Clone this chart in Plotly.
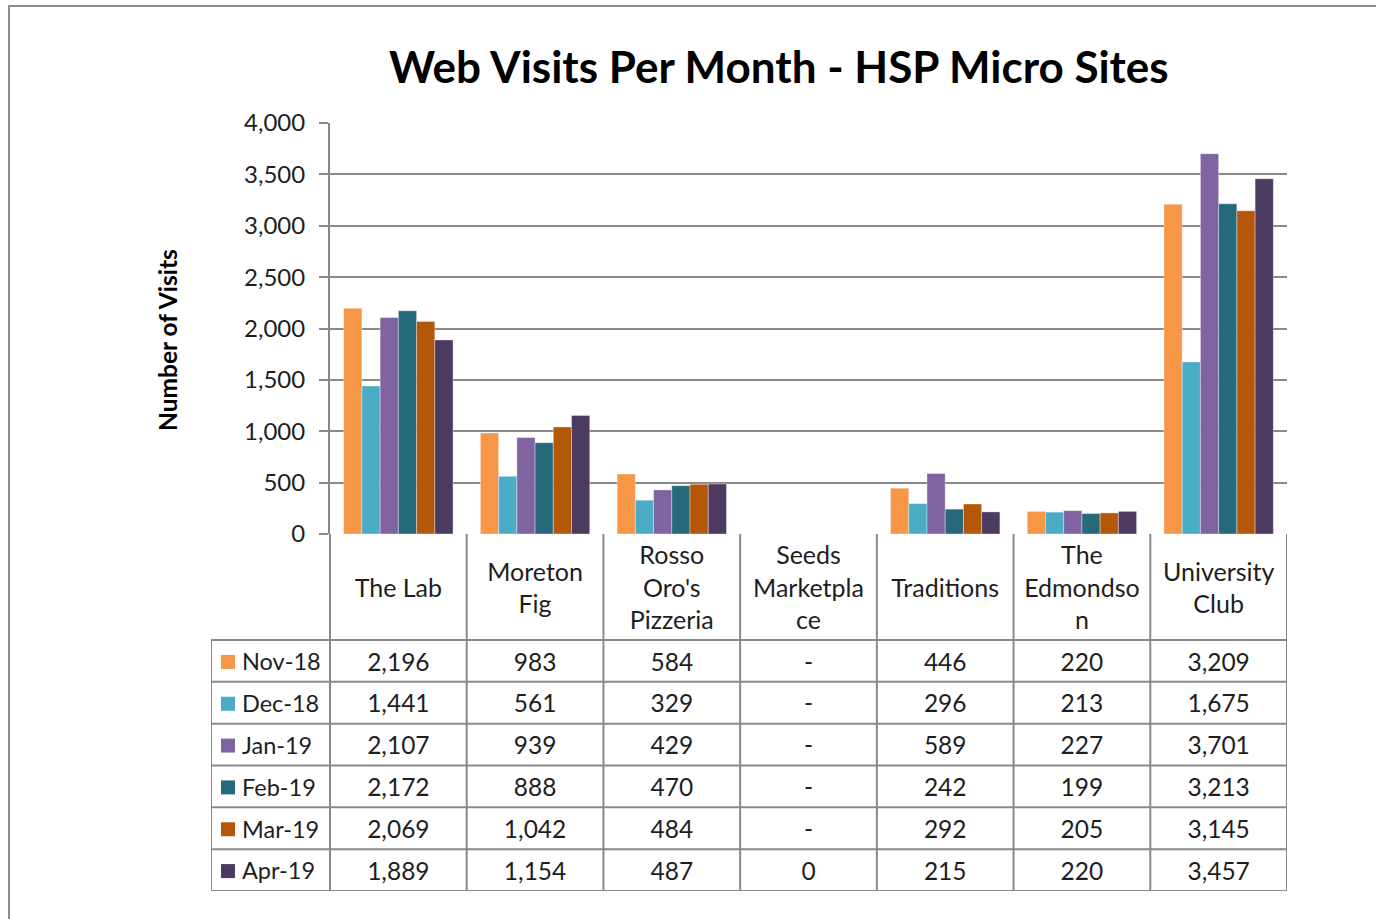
import plotly.graph_objects as go

categories = ["The Lab", "Moreton Fig", "Rosso Oro's Pizzeria", "Seeds Marketplace",
              "Traditions", "The Edmondson", "University Club"]
header_labels = ["The Lab", "Moreton<br>Fig", "Rosso<br>Oro's<br>Pizzeria", "Seeds<br>Marketpla<br>ce",
                 "Traditions", "The<br>Edmondso<br>n", "University<br>Club"]
months = ["Nov-18", "Dec-18", "Jan-19", "Feb-19", "Mar-19", "Apr-19"]
nov18 = [2196, 983, 584, None, 446, 220, 3209]
dec18 = [1441, 561, 329, None, 296, 213, 1675]
jan19 = [2107, 939, 429, None, 589, 227, 3701]
feb19 = [2172, 888, 470, None, 242, 199, 3213]
mar19 = [2069, 1042, 484, None, 292, 205, 3145]
apr19 = [1889, 1154, 487, 0, 215, 220, 3457]
series = [nov18, dec18, jan19, feb19, mar19, apr19]
colors = ["#F79646", "#4BACC6", "#8064A2", "#25697B", "#B55708", "#4D3A60"]
y_ticks = [0, 500, 1000, 1500, 2000, 2500, 3000, 3500, 4000]

W, H = 1376, 919
FONT = "Lato"
GRID = "#898989"
TXT = "#1e1e1e"

# pixel layout
plot_l, plot_r, plot_t, plot_b = 330, 1287, 123, 534
tab_l, tab_b = 211, 891
header_h = 106
n_cat = len(categories)
n_rows = len(months)
cat_w = (plot_r - plot_l) / n_cat
row_h = (tab_b - header_h - plot_b) / n_rows
legend_units = (plot_l - tab_l) / cat_w
header_units = header_h / row_h
x2_left = -0.5 - legend_units
text_dy = 3.5 / row_h  # small downward nudge for text baseline

fig = go.Figure()

for m, vals, c in zip(months, series, colors):
    fig.add_trace(go.Bar(x=categories, y=vals, name=m, marker_color=c,
                         marker_line=dict(color="rgba(255,255,255,0.6)", width=0.6),
                         xaxis="x", yaxis="y", showlegend=False, hoverinfo="x+y+name"))

def fmt(v):
    if v is None:
        return "-"
    return f"{v:,}"

for i, (m, vals, c) in enumerate(zip(months, series, colors)):
    yc = header_units + i + 0.5
    fig.add_trace(go.Scatter(x=list(range(n_cat)), y=[yc + text_dy] * n_cat, mode="text",
                             text=[fmt(v) for v in vals], textposition="middle center",
                             textfont=dict(family=FONT, size=24.5, color=TXT),
                             xaxis="x2", yaxis="y2", showlegend=False, hoverinfo="skip"))
    fig.add_trace(go.Scatter(x=[x2_left + 17 / cat_w], y=[yc + 1 / row_h], mode="markers",
                             marker=dict(symbol="square", size=14, color=c),
                             xaxis="x2", yaxis="y2", showlegend=False, hoverinfo="skip"))
    fig.add_trace(go.Scatter(x=[x2_left + 31 / cat_w], y=[yc + text_dy], mode="text",
                             text=[m], textposition="middle right",
                             textfont=dict(family=FONT, size=23.5, color=TXT),
                             xaxis="x2", yaxis="y2", showlegend=False, hoverinfo="skip"))

fig.add_trace(go.Scatter(x=list(range(n_cat)), y=[header_units / 2 + text_dy] * n_cat, mode="text",
                         text=header_labels, textposition="middle center",
                         textfont=dict(family=FONT, size=25, color=TXT),
                         xaxis="x2", yaxis="y2", showlegend=False, hoverinfo="skip"))

line = dict(color=GRID, width=2)
total_units = header_units + n_rows
for k in range(n_cat + 1):
    fig.add_shape(type="line", xref="x2", yref="y2", x0=k - 0.5, x1=k - 0.5,
                  y0=0, y1=total_units, line=line)
fig.add_shape(type="line", xref="x2", yref="y2", x0=x2_left, x1=x2_left,
              y0=header_units, y1=total_units, line=line)
for i in range(n_rows + 1):
    fig.add_shape(type="line", xref="x2", yref="y2", x0=x2_left, x1=n_cat - 0.5,
                  y0=header_units + i, y1=header_units + i, line=line)

fig.add_shape(type="rect", xref="paper", yref="paper", x0=9 / W, x1=1.02, y0=-0.02, y1=1 - 6 / H,
              line=dict(color="#8c8c8c", width=2), layer="above")

fig.update_layout(
    width=W, height=H, margin=dict(l=0, r=0, t=0, b=0, pad=0, autoexpand=False),
    paper_bgcolor="white", plot_bgcolor="rgba(0,0,0,0)",
    barmode="group", bargap=0.2, bargroupgap=0,
    font=dict(family=FONT, color=TXT),
    xaxis=dict(domain=[plot_l / W, plot_r / W], anchor="y", showticklabels=False, automargin=False,
               showgrid=False, zeroline=False, range=[-0.5, n_cat - 0.5], fixedrange=True),
    yaxis=dict(domain=[1 - plot_b / H, 1 - plot_t / H], anchor="x", range=[0, 4000], automargin=False,
               tickvals=y_ticks, tickformat=",", showgrid=True, gridcolor=GRID, gridwidth=2,
               zeroline=False, showline=True, linecolor=GRID, linewidth=2,
               ticks="outside", ticklen=9, tickcolor=GRID, tickwidth=2, ticklabelstandoff=9,
               tickfont=dict(family=FONT, size=24, color=TXT), fixedrange=True),
    xaxis2=dict(domain=[tab_l / W, plot_r / W], anchor="y2", range=[x2_left, n_cat - 0.5],
                visible=False, fixedrange=True, automargin=False),
    yaxis2=dict(domain=[1 - tab_b / H, 1 - plot_b / H], anchor="x2", automargin=False,
                range=[total_units, 0], visible=False, fixedrange=True),
    annotations=[
        dict(text="<b>Web Visits Per Month - HSP Micro Sites</b>", xref="paper", yref="paper",
             x=779 / W, y=1 - 66 / H, showarrow=False, xanchor="center", yanchor="middle",
             font=dict(family=FONT, size=44, color="#000000")),
        dict(text="<b>Number of Visits</b>", xref="paper", yref="paper",
             x=167 / W, y=1 - 340 / H, showarrow=False, textangle=-90,
             xanchor="center", yanchor="middle",
             font=dict(family=FONT, size=24.5, color="#000000")),
    ],
)

post = ("document.documentElement.style.margin='0';document.body.style.margin='0';"
        "document.documentElement.style.overflow='hidden';document.body.style.overflow='hidden';"
        "var gd=document.getElementById('{plot_id}');gd.style.position='fixed';"
        "gd.style.top='0px';gd.style.left='0px';gd.style.zIndex='10';")

fig.write_html("out.html", config={"displayModeBar": False}, post_script=post)
